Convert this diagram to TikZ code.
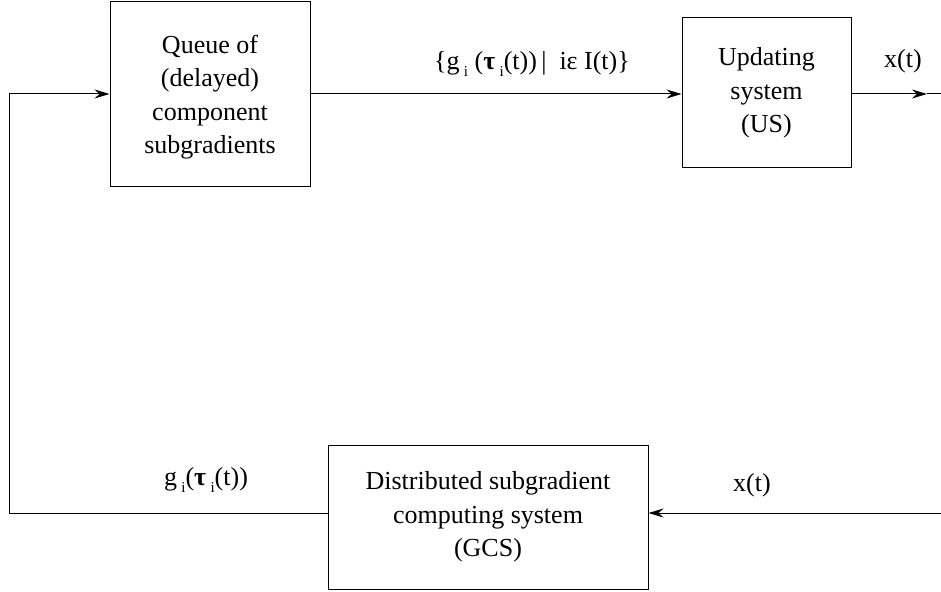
\documentclass[tikz,border=0pt]{standalone}
\usepackage{fontspec}
\setmainfont{Liberation Serif}
\usetikzlibrary{arrows.meta}
\newcommand{\subi}{\raisebox{-7bp}{\fontsize{15bp}{15bp}\selectfont i}}
\begin{document}
\begin{tikzpicture}[x=1bp,y=-1bp,
  box/.style={draw, line width=1bp, align=center, inner sep=0pt,
    font=\fontsize{26bp}{33.5bp}\selectfont},
  lbl/.style={font=\fontsize{26bp}{34bp}\selectfont, inner sep=0pt, anchor=base},
  conn/.style={line width=1bp},
  tip/.style={-{Stealth[length=15bp,width=9bp,inset=5bp]}}]
\useasboundingbox (0,0) rectangle (941,592);
\node[box, minimum width=200bp, minimum height=184bp] (Q) at (210,94) {};
\node[align=center, inner sep=0pt, font=\fontsize{26bp}{33.5bp}\selectfont] (Qt) at (210,97)
  {Queue of\\(delayed)\\component\\subgradients};
\node[box, minimum width=169bp, minimum height=150bp] (US) at (766.5,93)
  {Updating\\system\\(US)};
\node[box, minimum width=320bp, minimum height=144bp] (GCS) at (488,517)
  {Distributed subgradient\\computing system\\(GCS)};
\coordinate (lt) at (9,94);
\coordinate (lb) at (9,513);
\coordinate (rt) at (927,94);
\coordinate (re) at (941,94);
\coordinate (rb) at (941,513);
\draw[conn] (lb) -- (GCS.west |- lb);
\draw[conn,tip] (lb) -- (lt) -- (Q.west |- lt);
\draw[conn,tip] (Q.east |- lt) -- (US.west |- lt);
\draw[conn,tip] (US.east |- lt) -- (rt);
\draw[conn] (rt) -- (re);
\draw[conn,tip] (rb) -- (GCS.east |- rb);
\node[lbl] (l1) at (532,70) {\{g\,\subi\ (\textbf{τ}\,\subi(t))\,|\ \ iε I(t)\}};
\node[lbl] (l2) at (903,68) {x(t)};
\node[lbl] (l3) at (206,485) {g\,\subi(\textbf{τ}\,\subi(t))};
\node[lbl] (l4) at (752,491) {x(t)};
\end{tikzpicture}
\end{document}
